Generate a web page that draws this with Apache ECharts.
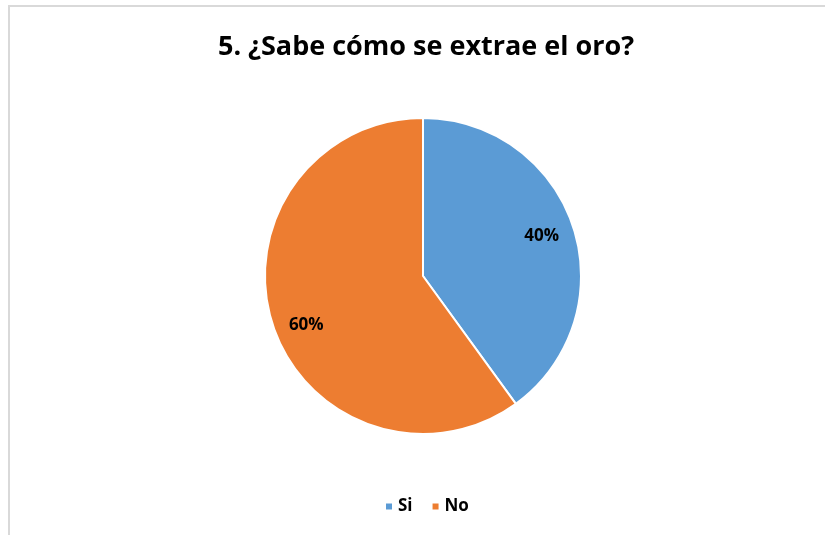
<!DOCTYPE html>
<html>
<head>
<meta charset="utf-8">
<script src="https://cdn.jsdelivr.net/npm/echarts@6/dist/echarts.min.js"></script>
<style>
html,body{margin:0;padding:0;background:#fff;}
#frame{position:absolute;left:8px;top:5px;width:830px;height:540px;border-top:2px solid #d9d9d9;border-left:2px solid #d9d9d9;}
#chart{position:absolute;left:0;top:0;width:825px;height:535px;}
</style>
</head>
<body>
<div id="frame"></div>
<div id="chart"></div>
<script>
var titleText = '5. ¿Sabe cómo se extrae el oro?';
var categories = ['Si', 'No'];
var values = [40, 60];
var colors = ['#5B9BD5', '#ED7D31'];

var labelOffsets = [[-3, 0], [5, 10]];

var data = categories.map(function (c, i) {
  return { name: c, value: values[i], itemStyle: { color: colors[i] } };
});

var chart = echarts.init(document.getElementById('chart'), null, { renderer: 'canvas' });
chart.setOption({
  backgroundColor: 'transparent',
  animation: false,
  title: {
    text: titleText,
    left: 421,
    textAlign: 'center',
    top: 29,
    textStyle: { fontFamily: 'Open Sans', fontWeight: 'bold', fontSize: 27, color: '#000' }
  },
  legend: {
    bottom: 15,
    left: 379,
    data: categories,
    icon: 'rect',
    itemWidth: 8,
    itemHeight: 8,
    itemGap: 18,
    textStyle: { fontFamily: 'Open Sans', fontWeight: 'bold', fontSize: 17, color: '#000' }
  },
  series: [
    {
      type: 'pie',
      center: [423, 276],
      radius: [0, 158],
      startAngle: 90,
      clockwise: true,
      data: data,
      itemStyle: { borderColor: '#fff', borderWidth: 2 },
      label: { show: false },
      labelLine: { show: false },
      emphasis: { disabled: true }
    },
    {
      type: 'pie',
      center: [423, 276],
      radius: [92, 158],
      startAngle: 90,
      clockwise: true,
      silent: true,
      data: data.map(function (d, i) {
        return { name: d.name, value: d.value, itemStyle: { color: 'transparent' }, label: { offset: labelOffsets[i] } };
      }),
      itemStyle: { borderWidth: 0 },
      label: {
        show: true,
        position: 'inside',
        formatter: function (p) { return Math.round(p.percent) + '%'; },
        fontFamily: 'Open Sans', fontWeight: 'bold', fontSize: 17, color: '#000'
      },
      labelLine: { show: false },
      legendHoverLink: false,
      emphasis: { disabled: true }
    }
  ]
});
</script>
</body>
</html>
